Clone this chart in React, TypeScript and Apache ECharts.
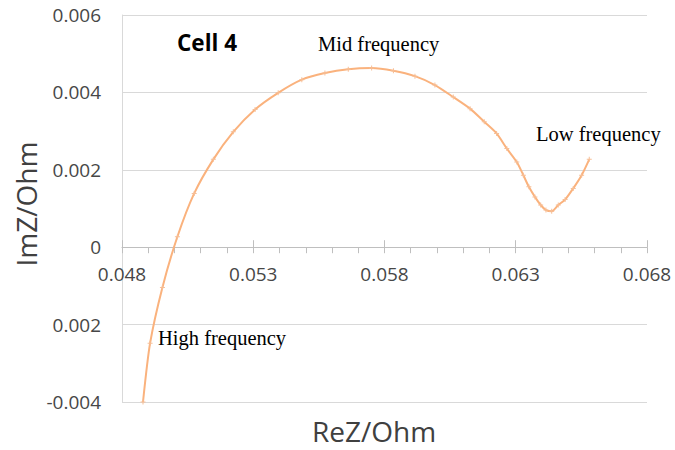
import React, { useEffect, useRef } from "react";
import * as echarts from "echarts";

const RE_Z = [
  0.0488, 0.04907, 0.04954, 0.05011, 0.05075, 0.05148, 0.05224, 0.05307, 0.05395, 0.05485,
  0.05573, 0.05662, 0.05751, 0.05834, 0.05916, 0.05992, 0.06062, 0.06126, 0.0618, 0.06227,
  0.06266, 0.06304, 0.06329, 0.0635, 0.06373, 0.06395, 0.06415, 0.06437, 0.06462, 0.06488,
  0.06519, 0.06551, 0.0658,
];
const IM_Z = [
  -0.004, -0.00248, -0.00104, 0.00027, 0.00139, 0.00227, 0.00298, 0.00356, 0.00399, 0.00433,
  0.0045, 0.0046, 0.00463, 0.00456, 0.00442, 0.00419, 0.00388, 0.00358, 0.00324, 0.00294,
  0.00255, 0.0022, 0.00186, 0.00156, 0.0013, 0.00109, 0.00096, 0.00093, 0.00109, 0.00123,
  0.00152, 0.00186, 0.00227,
];
const X_LABELS = [0.048, 0.053, 0.058, 0.063, 0.068];
const X_MINOR_TICKS = [
  0.048, 0.049, 0.05, 0.051, 0.052, 0.053, 0.054, 0.055, 0.056, 0.057, 0.058, 0.059, 0.06,
  0.061, 0.062, 0.063, 0.064, 0.065, 0.066, 0.067, 0.068,
];
const Y_MIN = -0.004;
const Y_MAX = 0.006;
const Y_STEP = 0.002;
const X_MIN = 0.048;
const X_MAX = 0.068;

const TITLE = "Cell 4";
const NOTE_MID = "Mid frequency";
const NOTE_LOW = "Low frequency";
const NOTE_HIGH = "High frequency";
const X_NAME = "ReZ/Ohm";
const Y_NAME = "ImZ/Ohm";

const GRID_TOP = 15;
const GRID_BOTTOM = 48;
const CHART_H = 450;

export default function App() {
  const ref = useRef<HTMLDivElement>(null);
  useEffect(() => {
    if (!ref.current) return;
    const chart = echarts.init(ref.current, null, { renderer: "svg" });
    const plotH = CHART_H - GRID_TOP - GRID_BOTTOM;
    // distance of the y=0 line from the bottom / top edge of the plot
    const zeroFromBottom = ((0 - Y_MIN) / (Y_MAX - Y_MIN)) * plotH;
    const zeroFromTop = plotH - zeroFromBottom;
    const labelFont = { fontFamily: "Open Sans", fontSize: 19, color: "#474747" };
    const serif = { fontFamily: "Liberation Serif", fontSize: 20.5, fill: "#000" };
    chart.setOption({
      animation: false,
      backgroundColor: "#fff",
      grid: { left: 122, right: 28, top: GRID_TOP, bottom: GRID_BOTTOM, containLabel: false },
      xAxis: [
        {
          type: "value",
          min: X_MIN,
          max: X_MAX,
          position: "bottom",
          offset: -zeroFromBottom,
          axisLine: { show: true, onZero: false, lineStyle: { color: "#bfbfbf", width: 1 } },
          axisTick: {
            show: true,
            customValues: X_MINOR_TICKS,
            length: 6,
            lineStyle: { color: "#bfbfbf" },
          },
          axisLabel: {
            ...labelFont,
            customValues: X_LABELS,
            margin: 17,
            formatter: (v: number) => v.toFixed(3),
          },
          splitLine: { show: false },
        },
        {
          type: "value",
          min: X_MIN,
          max: X_MAX,
          position: "top",
          offset: -zeroFromTop,
          axisLine: { show: false, onZero: false },
          axisTick: {
            show: true,
            customValues: X_LABELS,
            length: 7,
            lineStyle: { color: "#bfbfbf" },
          },
          axisLabel: { show: false },
          splitLine: { show: false },
        },
      ],
      yAxis: {
        type: "value",
        min: Y_MIN,
        max: Y_MAX,
        interval: Y_STEP,
        axisLine: { show: true, onZero: false, lineStyle: { color: "#d9d9d9" } },
        axisTick: { show: false },
        axisLabel: {
          ...labelFont,
          margin: 21,
          formatter: (v: number) => {
            if (Math.abs(v) < 1e-12) return "0";
            if (Math.abs(v + 0.002) < 1e-9) return "0.002";
            return v.toFixed(3);
          },
        },
        splitLine: { show: true, lineStyle: { color: "#d9d9d9", width: 1 } },
      },
      graphic: [
        {
          type: "text",
          left: 177,
          top: 31,
          style: { text: TITLE, fontFamily: "Open Sans", fontWeight: "bold", fontSize: 22.5, fill: "#000" },
        },
        {
          type: "text",
          x: 318,
          y: 44,
          style: { text: NOTE_MID, ...serif, textVerticalAlign: "middle" },
        },
        {
          type: "text",
          x: 536,
          y: 134,
          style: { text: NOTE_LOW, ...serif, textVerticalAlign: "middle" },
        },
        {
          type: "text",
          x: 158,
          y: 338,
          style: { text: NOTE_HIGH, ...serif, textVerticalAlign: "middle" },
        },
        {
          type: "text",
          x: 374,
          y: 431,
          style: {
            text: X_NAME,
            fontFamily: "Open Sans",
            fontSize: 28,
            fill: "#404040",
            textAlign: "center",
            textVerticalAlign: "middle",
          },
        },
        {
          type: "text",
          x: 26,
          y: 204,
          rotation: Math.PI / 2,
          style: {
            text: Y_NAME,
            fontFamily: "Open Sans",
            fontSize: 28,
            fill: "#404040",
            textAlign: "center",
            textVerticalAlign: "middle",
          },
        },
      ],
      series: [
        {
          type: "line",
          xAxisIndex: 0,
          data: RE_Z.map((x, i) => [x, IM_Z[i]]),
          smooth: 0.25,
          symbol: "path://M4,0L6,0L6,4L10,4L10,6L6,6L6,10L4,10L4,6L0,6L0,4L4,4Z",
          symbolSize: 5,
          itemStyle: { color: "#F6BE96" },
          lineStyle: { color: "#FAB27D", width: 2 },
          clip: true,
        },
      ],
    });
    return () => chart.dispose();
  }, []);
  return (
    <div
      ref={ref}
      style={{ position: "fixed", left: 0, top: 0, width: 675, height: 450 }}
    />
  );
}
